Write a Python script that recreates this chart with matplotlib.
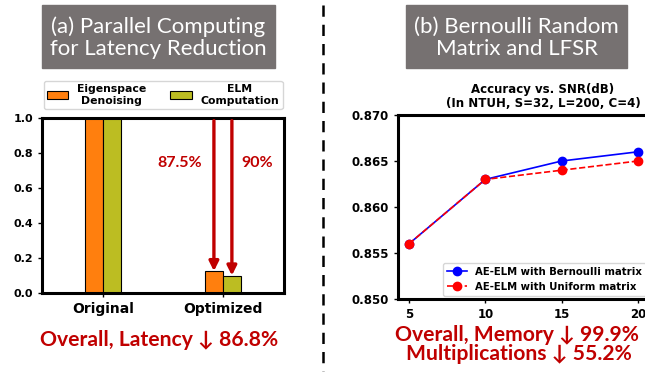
import matplotlib.pyplot as plt
from matplotlib.patches import Rectangle
from matplotlib.lines import Line2D

# latency (normalized) per stage
groups = ["Original", "Optimized"]
eigen_latency = [1.0, 0.125]
elm_latency = [1.0, 0.1]
reduction_labels = ["87.5%", "90%"]

# accuracy vs SNR
snr_db = [5, 10, 15, 20]
acc_bernoulli = [0.856, 0.863, 0.865, 0.866]
acc_uniform = [0.856, 0.863, 0.864, 0.865]

DARK_RED = "#c00000"
BOX_GRAY = "#767171"
TEXT_FONT = ["Lato", "DejaVu Sans"]

W, H = 645, 376
fig = plt.figure(figsize=(W / 100, H / 100), dpi=100)


def px_rect(x0, y0, x1, y1):
    return [x0 / W, 1 - y1 / H, (x1 - x0) / W, (y1 - y0) / H]


def header(x0, x1, lines):
    fig.patches.append(Rectangle((x0 / W, 1 - 68 / H), (x1 - x0) / W, 63 / H,
                                 transform=fig.transFigure, color=BOX_GRAY))
    fig.text((x0 + x1) / 2 / W, 1 - 38 / H, lines, ha="center", va="center",
             color="white", fontsize=16, family=TEXT_FONT, linespacing=1.1)


# ---- (a) latency bars ----
ax1 = fig.add_axes(px_rect(42, 118, 284, 293))
bw = 0.15
xs = range(len(groups))
ax1.bar([x - bw / 2 for x in xs], eigen_latency, bw, color="#ff7f0e",
        edgecolor="black", linewidth=0.8, label="Eigenspace\nDenoising")
ax1.bar([x + bw / 2 for x in xs], elm_latency, bw, color="#bcbd22",
        edgecolor="black", linewidth=0.8, label="ELM\nComputation")
ax1.set_xlim(-0.51, 1.51)
ax1.set_ylim(0, 1.0)
ax1.set_xticks(list(xs))
ax1.set_xticklabels(groups, fontsize=10, fontweight="bold")
ax1.set_yticks([0, 0.2, 0.4, 0.6, 0.8, 1.0])
ax1.set_yticklabels(["0.0", "0.2", "0.4", "0.6", "0.8", "1.0"],
                    fontsize=8, fontweight="bold")
ax1.tick_params(length=3, width=1)
for s in ax1.spines.values():
    s.set_linewidth(2.2)

# red arrows showing the reduction of each optimized bar
for xo, top, lbl, tx in [(1 - bw / 2, eigen_latency[1], reduction_labels[0], 0.64),
                         (1 + bw / 2, elm_latency[1], reduction_labels[1], 1.29)]:
    ax1.annotate("", xy=(xo, top), xytext=(xo, 0.985),
                 arrowprops=dict(arrowstyle="-|>", color=DARK_RED, lw=2.4,
                                 mutation_scale=14, shrinkA=0, shrinkB=0))
    ax1.text(tx, 0.743, lbl, ha="center", va="center", color=DARK_RED,
             fontsize=11.5, fontweight="bold", family=TEXT_FONT)

leg1 = ax1.legend(loc="lower center", bbox_to_anchor=(0.5, 1.02), ncol=2,
                  prop={"size": 7.8, "weight": "bold"}, handlelength=2.0,
                  handleheight=0.7, columnspacing=2.2, borderpad=0.3,
                  frameon=True, fancybox=True)
for t in leg1.get_texts():
    t.set_multialignment("center")

fig.text(159 / W, 1 - 340 / H, "Overall, Latency \u2193 86.8%", ha="center",
         va="center", color=DARK_RED, fontsize=15.2, fontweight="bold",
         family=TEXT_FONT)

# ---- (b) accuracy vs SNR ----
ax2 = fig.add_axes(px_rect(398, 115, 649, 299))
ax2.plot(snr_db, acc_bernoulli, "-o", color="blue", lw=1.2, ms=6,
         label="AE-ELM with Bernoulli matrix")
ax2.plot(snr_db, acc_uniform, "--o", color="red", lw=1.2, ms=6,
         label="AE-ELM with Uniform matrix")
ax2.set_xlim(4.28, 20.72)
ax2.set_ylim(0.850, 0.870)
ax2.set_xticks(snr_db)
ax2.set_yticks([0.850, 0.855, 0.860, 0.865, 0.870])
ax2.set_xticklabels([str(v) for v in snr_db], fontsize=8.5, fontweight="bold")
ax2.set_yticklabels(["0.850", "0.855", "0.860", "0.865", "0.870"],
                    fontsize=8.5, fontweight="bold")
ax2.tick_params(length=3, width=1)
for s in ax2.spines.values():
    s.set_linewidth(2.2)
ax2.legend(loc="lower right", prop={"size": 7.3, "weight": "bold"},
           handlelength=2.0, borderpad=0.4, borderaxespad=0.3)

fig.text(543 / W, 1 - 96.5 / H, "Accuracy vs. SNR(dB)\n(In NTUH, S=32, L=200, C=4)",
         ha="center", va="center", fontsize=8.5, fontweight="bold",
         linespacing=1.15)

fig.text(517 / W, 1 - 335 / H, "Overall, Memory \u2193 99.9%", ha="center",
         va="center", color=DARK_RED, fontsize=15.2, fontweight="bold",
         family=TEXT_FONT)
fig.text(519 / W, 1 - 354 / H, "Multiplications \u2193 55.2%", ha="center",
         va="center", color=DARK_RED, fontsize=15.2, fontweight="bold",
         family=TEXT_FONT)

header(42, 275, "(a) Parallel Computing\nfor Latency Reduction")
header(406, 627, "(b) Bernoulli Random\nMatrix and LFSR")

# dashed divider between the two panels
fig.add_artist(Line2D([323 / W, 323 / W], [1 - 5 / H, 1 - 371 / H],
                      transform=fig.transFigure, color="black", lw=1.8,
                      dashes=(4.5, 3.2)))

fig.savefig("out.png", dpi=100)
